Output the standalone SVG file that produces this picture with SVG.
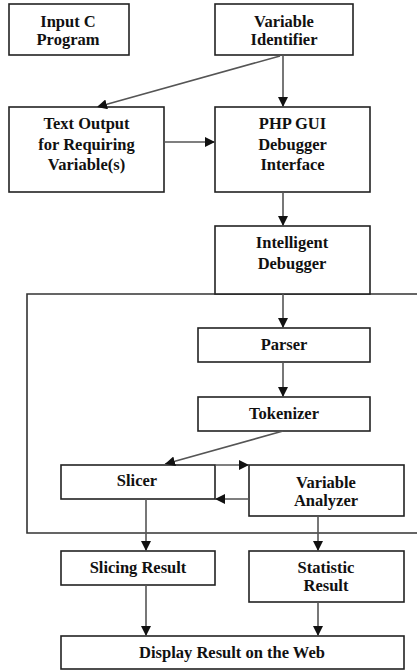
<svg xmlns="http://www.w3.org/2000/svg" width="417" height="670" viewBox="0 0 417 670">
  <style>
    .box { fill: #ffffff; stroke: #222222; stroke-width: 1.6; }
    .frame { fill: none; stroke: #333333; stroke-width: 1.6; }
    .lbl { font-family: "Liberation Serif", "Times New Roman", serif; font-weight: bold; font-size: 16.5px; fill: #111111; text-anchor: middle; }
    .conn { fill: none; stroke: #555555; stroke-width: 1.6; marker-end: url(#arrow); }
  </style>
  <defs>
    <marker id="arrow" markerUnits="userSpaceOnUse" markerWidth="10" markerHeight="10" viewBox="0 0 10 10" refX="10" refY="5" orient="auto">
      <path d="M0,0 L10,5 L0,10 z" fill="#111111"/>
    </marker>
  </defs>
  <rect width="417" height="670" fill="#ffffff"/>

  <!-- enclosing frame of the intelligent debugger, open on the right -->
  <polyline id="debugger-frame" class="frame" points="418,294 27,294 27,533 418,533"/>

  <g id="input-c-program">
    <rect class="box" x="9" y="4" width="120" height="51"/>
    <text class="lbl" x="68" y="27">Input C</text>
    <text class="lbl" x="68" y="45">Program</text>
  </g>

  <g id="variable-identifier">
    <rect class="box" x="215" y="4" width="138" height="51"/>
    <text class="lbl" x="284" y="27">Variable</text>
    <text class="lbl" x="284" y="45">Identifier</text>
  </g>

  <g id="text-output">
    <rect class="box" x="9" y="107" width="155" height="85"/>
    <text class="lbl" x="86.5" y="129">Text Output</text>
    <text class="lbl" x="86.5" y="149.5">for Requiring</text>
    <text class="lbl" x="86.5" y="170">Variable(s)</text>
  </g>

  <g id="php-gui">
    <rect class="box" x="215" y="107" width="155" height="85"/>
    <text class="lbl" x="292.5" y="129">PHP GUI</text>
    <text class="lbl" x="292.5" y="149.5">Debugger</text>
    <text class="lbl" x="292.5" y="170">Interface</text>
  </g>

  <g id="intelligent-debugger">
    <rect class="box" x="215" y="226" width="155" height="68"/>
    <text class="lbl" x="292" y="248">Intelligent</text>
    <text class="lbl" x="292" y="269">Debugger</text>
  </g>

  <g id="parser">
    <rect class="box" x="198" y="328" width="172" height="34"/>
    <text class="lbl" x="284" y="350">Parser</text>
  </g>

  <g id="tokenizer">
    <rect class="box" x="198" y="397" width="172" height="34"/>
    <text class="lbl" x="284" y="419">Tokenizer</text>
  </g>

  <g id="slicer">
    <rect class="box" x="61" y="465" width="154" height="34"/>
    <text class="lbl" x="137" y="486">Slicer</text>
  </g>

  <g id="variable-analyzer">
    <rect class="box" x="249" y="465" width="155" height="51"/>
    <text class="lbl" x="326" y="488">Variable</text>
    <text class="lbl" x="326" y="506">Analyzer</text>
  </g>

  <g id="slicing-result">
    <rect class="box" x="61" y="551" width="154" height="34"/>
    <text class="lbl" x="138" y="573">Slicing Result</text>
  </g>

  <g id="statistic-result">
    <rect class="box" x="249" y="551" width="155" height="51"/>
    <text class="lbl" x="326" y="573">Statistic</text>
    <text class="lbl" x="326" y="591">Result</text>
  </g>

  <g id="display-result">
    <rect class="box" x="61" y="636" width="343" height="33"/>
    <text class="lbl" x="232" y="658">Display Result on the Web</text>
  </g>

  <g id="connectors">
    <line class="conn" x1="280" y1="56" x2="97" y2="107"/>
    <line class="conn" x1="283" y1="55" x2="283" y2="107"/>
    <line class="conn" x1="164" y1="142" x2="215" y2="142"/>
    <line class="conn" x1="283" y1="192" x2="283" y2="226"/>
    <line class="conn" x1="283" y1="294" x2="283" y2="328"/>
    <line class="conn" x1="283" y1="362" x2="283" y2="397"/>
    <line class="conn" x1="283" y1="431" x2="165" y2="464"/>
    <line class="conn" x1="215" y1="465" x2="249" y2="465"/>
    <line class="conn" x1="249" y1="499" x2="215" y2="499"/>
    <line class="conn" x1="146" y1="499" x2="146" y2="551"/>
    <line class="conn" x1="318" y1="516" x2="318" y2="551"/>
    <line class="conn" x1="146" y1="585" x2="146" y2="636"/>
    <line class="conn" x1="318" y1="602" x2="318" y2="636"/>
  </g>
</svg>
